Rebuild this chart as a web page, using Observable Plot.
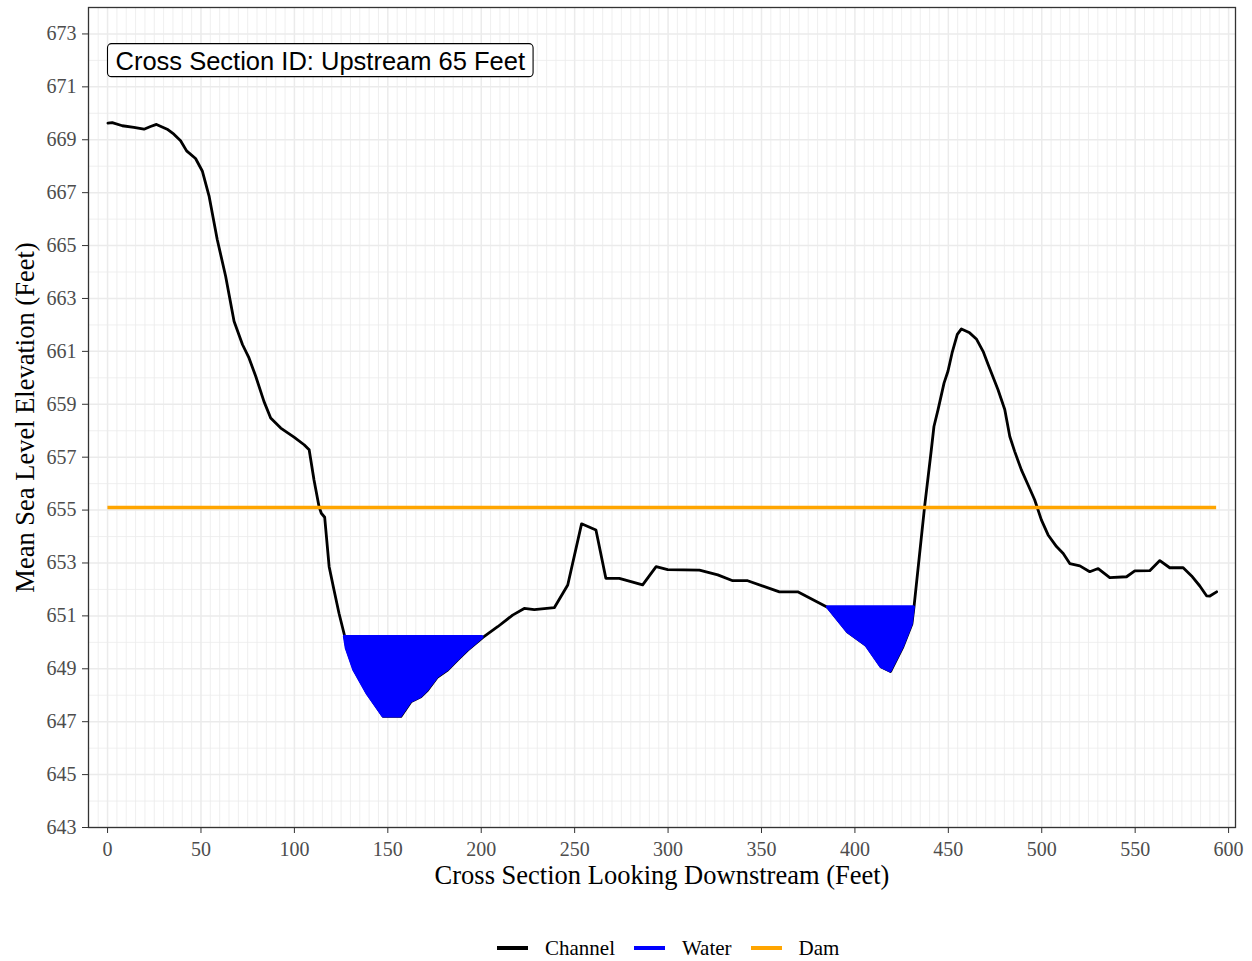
<!DOCTYPE html>
<html>
<head>
<meta charset="utf-8">
<script src="https://cdn.jsdelivr.net/npm/d3@7"></script>
<script src="https://cdn.jsdelivr.net/npm/@observablehq/plot@0.6"></script>
<style>
  body { margin: 0; background: #fff; }
  #wrap { position: relative; width: 1252px; height: 961px; background: #fff; }
  g[aria-label="y-axis tick label"], g[aria-label="x-axis tick label"] { fill: #4d4d4d; }
  g[aria-label="y-axis tick"], g[aria-label="x-axis tick"] { stroke: #333333; }
  #legend { position: absolute; left: 497px; top: 936px; display: flex; align-items: center;
            font-family: "Liberation Serif", "DejaVu Serif", serif; font-size: 21px; color: #000; height: 24px; }
  .item { display: flex; align-items: center; margin-right: 19px; }
  .key { width: 31px; height: 4px; margin-right: 17px; }
</style>
</head>
<body>
<div id="wrap"><div id="chart"></div><div id="legend"></div></div>
<script>
// ---- data ----
const chX = [0.2, 2.5, 7.9, 14.1, 19.5, 23, 26.2, 31.9, 35.5, 39.1, 42.3, 47.1, 50.7, 54.3, 58.7, 63.2, 67.7, 72.2, 75.7, 79.3,
  83.7, 87.3, 92.7, 99.8, 105.2, 107.9, 110.5, 113.2, 114.4, 116.2, 118.6, 121.2, 123.9, 127, 128, 132, 139.1, 147.6, 157, 162.3,
  167.7, 171.3, 176.6, 182, 187.3, 192.7, 200.7, 208.8, 216.8, 223, 228.4, 239.1, 246.3, 253.7, 261.4, 266.7, 273.9, 286.4, 293.6, 299.8,
  316.8, 326.6, 334.6, 342.6, 359.6, 369.4, 385.5, 396.2, 406, 414.1, 419.1, 425.7, 430.5, 431.6, 437.3, 440.9, 442.3, 444.5, 447.7, 449.8,
  452, 454.8, 457, 461.4, 465, 468.6, 471.3, 476.6, 480.2, 482.9, 485.5, 489.1, 492.7, 496.2, 499.8, 503.4, 507.9, 511.5, 515, 520.4,
  525.7, 530.2, 536.4, 545.4, 549.8, 557.8, 563.2, 568.5, 575.7, 580.2, 584.6, 588.2, 590, 593.6];
const chY = [669.63, 669.65, 669.53, 669.47, 669.40, 669.50, 669.58, 669.40, 669.21, 668.96, 668.58, 668.29, 667.82, 666.88, 665.23, 663.84, 662.14, 661.26, 660.75, 660.06,
  659.11, 658.48, 658.10, 657.76, 657.47, 657.28, 656.14, 655.13, 654.88, 654.73, 652.86, 651.98, 651.09, 650.21, 649.77, 648.95, 648.06, 647.20, 647.20, 647.75,
  647.94, 648.19, 648.69, 648.95, 649.33, 649.70, 650.18, 650.59, 651.03, 651.28, 651.24, 651.31, 652.17, 654.48, 654.25, 652.42, 652.42, 652.17, 652.86, 652.75,
  652.73, 652.55, 652.33, 652.33, 651.91, 651.91, 651.32, 650.39, 649.89, 649.07, 648.90, 649.83, 650.69, 651.32, 655.13, 657.28, 658.16, 658.80, 659.80, 660.25,
  660.94, 661.64, 661.85, 661.70, 661.47, 661.00, 660.50, 659.55, 658.80, 657.78, 657.22, 656.52, 655.95, 655.39, 654.63, 654.06, 653.62, 653.36, 652.98, 652.89,
  652.67, 652.79, 652.45, 652.48, 652.70, 652.71, 653.09, 652.82, 652.82, 652.51, 652.13, 651.76, 651.75, 651.91];
const poolStart = [127, 385.5];
const poolEnd = [200.7, 431.6];
const waterLevel = [650.2, 651.33];
const damLevel = 655.1;
const damStart = 0.2, damEnd = 593.6;
const xTicks = [0, 50, 100, 150, 200, 250, 300, 350, 400, 450, 500, 550, 600];
const yTicks = [643, 645, 647, 649, 651, 653, 655, 657, 659, 661, 663, 665, 667, 669, 671, 673];
const xGridMinor = d3.range(-5, 601, 5).filter(v => v % 50 !== 0);
const yGridMinor = d3.range(644, 675, 2);
const labelText = "Cross Section ID: Upstream 65 Feet";
const xTitle = "Cross Section Looking Downstream (Feet)";
const yTitle = "Mean Sea Level Elevation (Feet)";
const legendItems = ["Channel", "Water", "Dam"];
const legendColors = ["#000000", "#0000ff", "#ffa500"];

// ---- build tables ----
const channel = chX.map((x, i) => ({x, y: chY[i]}));
const pools = poolStart.map((s, i) => channel.filter(d => d.x >= s && d.x <= poolEnd[i]).map(d => ({x: d.x, bed: d.y, level: waterLevel[i]})));

const serif = "'Liberation Serif', 'DejaVu Serif', serif";
const plot = Plot.plot({
  width: 1252,
  height: 900,
  marginLeft: 88,
  marginRight: 17,
  marginTop: 7,
  marginBottom: 73,
  style: {fontFamily: serif, background: "#fff", overflow: "visible"},
  x: {domain: [-10.2, 603.7], axis: null},
  y: {domain: [643, 674], axis: null},
  marks: [
    Plot.ruleX(xGridMinor, {stroke: "#ebebeb", strokeWidth: 0.8}),
    Plot.ruleY(yGridMinor, {stroke: "#ebebeb", strokeWidth: 0.8}),
    Plot.ruleX(xTicks, {stroke: "#ebebeb", strokeWidth: 1.5}),
    Plot.ruleY(yTicks, {stroke: "#ebebeb", strokeWidth: 1.5}),
    Plot.line(channel, {x: "x", y: "y", stroke: "#000", strokeWidth: 2.8, strokeLinejoin: "round"}),
    ...pools.map(p => Plot.areaY(p, {x: "x", y1: "bed", y2: "level", fill: "#0000ff", stroke: "#0000ff", strokeWidth: 3, strokeLinejoin: "round"})),
    Plot.ruleY([damLevel], {x1: damStart, x2: damEnd, stroke: "#ffa500", strokeWidth: 3.5}),
    Plot.frame({stroke: "#333333", strokeWidth: 1.3}),
    Plot.axisX(xTicks, {anchor: "bottom", tickSize: 6, tickPadding: 8, fontSize: 20, label: null, tickFormat: d => String(d)}),
    Plot.axisY(yTicks, {anchor: "left", tickSize: 6, tickPadding: 6, fontSize: 20, label: null, tickFormat: d => String(d)}),
    Plot.text([xTitle], {frameAnchor: "bottom", dy: 48, text: d => d, fontSize: 26.5, fill: "#000", textAnchor: "middle", lineAnchor: "middle"}),
    Plot.text([yTitle], {frameAnchor: "left", dx: -63, rotate: -90, text: d => d, fontSize: 26.5, fill: "#000", textAnchor: "middle", lineAnchor: "middle"}),
    Plot.text([labelText], {frameAnchor: "top-left", dx: 27, dy: 54, text: d => d, textAnchor: "start", lineAnchor: "middle",
      fontSize: 25.5, fontFamily: "'Liberation Sans', Arial, sans-serif", fill: "#000", className: "cslabel"})
  ]
});
document.getElementById("chart").appendChild(plot);

// rounded box behind the label text
const lbl = plot.querySelector(".cslabel text");
if (lbl) {
  const bb = lbl.getBBox();
  const rect = document.createElementNS("http://www.w3.org/2000/svg", "rect");
  rect.setAttribute("x", bb.x - 8);
  rect.setAttribute("y", bb.y - 3);
  rect.setAttribute("width", bb.width + 16);
  rect.setAttribute("height", bb.height + 5);
  rect.setAttribute("rx", 4);
  rect.setAttribute("fill", "#fff");
  rect.setAttribute("stroke", "#000");
  rect.setAttribute("stroke-width", 1.1);
  const tf = lbl.getAttribute("transform");
  if (tf) rect.setAttribute("transform", tf);
  lbl.parentNode.insertBefore(rect, lbl);
}

// legend
const leg = document.getElementById("legend");
legendItems.forEach((name, i) => {
  const it = document.createElement("div");
  it.className = "item";
  const k = document.createElement("div");
  k.className = "key";
  k.style.background = legendColors[i];
  const t = document.createElement("span");
  t.textContent = name;
  it.appendChild(k); it.appendChild(t);
  leg.appendChild(it);
});
</script>
</body>
</html>
